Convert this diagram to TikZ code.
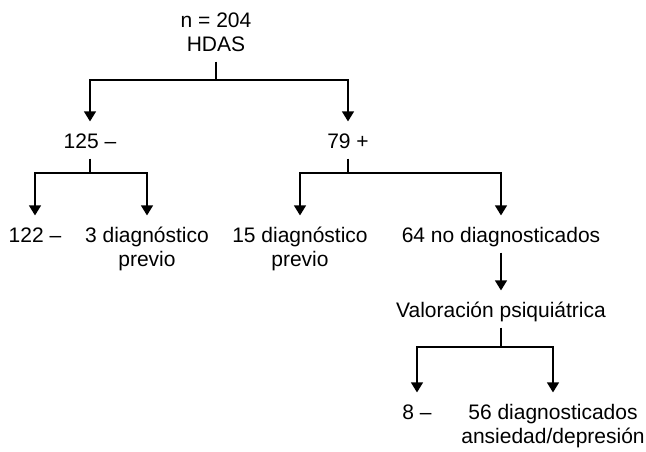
\documentclass[tikz,border=0pt]{standalone}
\usepackage{fontspec}
\setmainfont{Liberation Sans}
\usetikzlibrary{arrows.meta}
\tikzset{
	txt/.style = {inner sep=0pt, text height=26pt, text depth=10pt, align=center, anchor=base, font=\fontsize{21}{24}\selectfont},
	txttwo/.style = {txt, text height=50pt},
	tip/.style = {-{Triangle[width=12pt,length=10pt]}}
}
\begin{document}
\begin{tikzpicture} [x=1pt, y=-1pt, line width=1.2pt]
	\useasboundingbox (0,0) rectangle (646,451);
	% first split
	\node [txttwo] (hdas) at (216,51) {n = 204\\HDAS};
	\node [txt] (neg) at (90,148) {125 --};
	\node [txt] (pos) at (348,148) {79 +};
	\coordinate (j1) at (216,80);
	\draw (hdas) -- (j1);
	\draw [tip] (j1) -| (neg);
	\draw [tip] (j1) -| (pos);
	% negatives
	\node [txt] (neg2) at (35,242) {122 --};
	\node [txttwo] (prev3) at (147,266) {3 diagnóstico\\previo};
	\coordinate (j2) at (90,173);
	\draw (neg) -- (j2);
	\draw [tip] (j2) -| (neg2);
	\draw [tip] (j2) -| (prev3);
	% positives
	\node [txttwo] (prev15) at (300,266) {15 diagnóstico\\previo};
	\node [txt] (nodiag) at (501,242) {64 no diagnosticados};
	\coordinate (j3) at (348,173);
	\draw (pos) -- (j3);
	\draw [tip] (j3) -| (prev15);
	\draw [tip] (j3) -| (nodiag);
	% psychiatric assessment
	\node [txt] (psiq) at (501,317) {Valoración psiquiátrica};
	\draw [tip] (nodiag) -- (psiq);
	\node [txt] (neg8) at (417,419) {8 --};
	\node [txttwo] (diag56) at (553,443) {56 diagnosticados\\ansiedad/depresión};
	\coordinate (j4) at (501,347);
	\draw (psiq) -- (j4);
	\draw [tip] (j4) -| (neg8);
	\draw [tip] (j4) -| (diag56);
\end{tikzpicture}
\end{document}
